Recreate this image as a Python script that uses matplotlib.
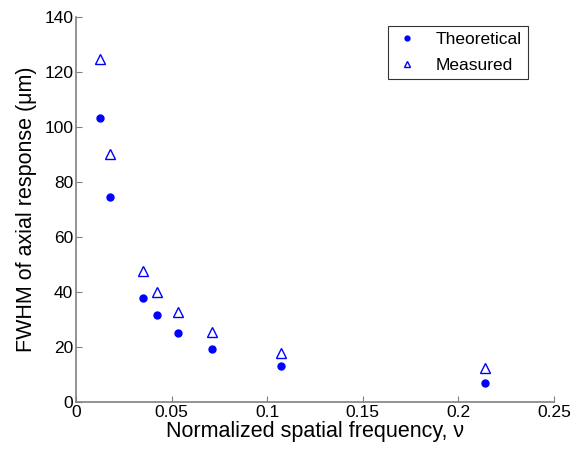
import numpy as np
import matplotlib
matplotlib.use('Agg')
import matplotlib.pyplot as plt

plt.rcParams['font.family'] = ['Liberation Sans', 'DejaVu Sans']

freq = [0.0125, 0.0178, 0.0353, 0.0425, 0.0532, 0.0713, 0.1070, 0.2140]
theoretical = [103.5, 74.7, 37.8, 31.6, 25.2, 19.2, 13.0, 6.8]
measured = [124.7, 90.3, 47.6, 40.0, 32.7, 25.6, 18.0, 12.5]

fig = plt.figure(figsize=(5.73, 4.49), dpi=100)
ax = fig.add_axes([0.1326, 0.1047, 0.834, 0.857])

ax.plot(freq, theoretical, 'o', color='#0000ff', markersize=5, label='Theoretical')
ax.plot(freq, measured, '^', color='#0000ff', markerfacecolor='none', markersize=7,
        markeredgewidth=1.0, label='Measured')

ax.set_xlim(0, 0.25)
ax.set_ylim(0, 140)
ax.set_xticks([0, 0.05, 0.1, 0.15, 0.2, 0.25])
ax.set_xticklabels(['0', '0.05', '0.1', '0.15', '0.2', '0.25'])
ax.set_yticks(np.arange(0, 141, 20))

for s in ['top', 'right']:
    ax.spines[s].set_visible(False)
for s in ['left', 'bottom']:
    ax.spines[s].set_color('#808080')
    ax.spines[s].set_linewidth(1.2)
ax.tick_params(direction='in', length=4, color='#808080', labelsize=12.5,
               labelcolor='black', pad=2)

ax.set_xlabel('Normalized spatial frequency, ν', fontsize=15.5, labelpad=1)
ax.set_ylabel('FWHM of axial response (μm)', fontsize=15.5, labelpad=5)

leg = ax.legend(loc='upper right', bbox_to_anchor=(0.945, 0.977), fontsize=12.5, frameon=True,
                fancybox=False, edgecolor='black', markerscale=0.7, handlelength=1.5,
                handletextpad=0.9, borderpad=0.35, labelspacing=0.6, borderaxespad=0)
leg.get_frame().set_linewidth(0.8)

fig.savefig('out.png', dpi=100)
